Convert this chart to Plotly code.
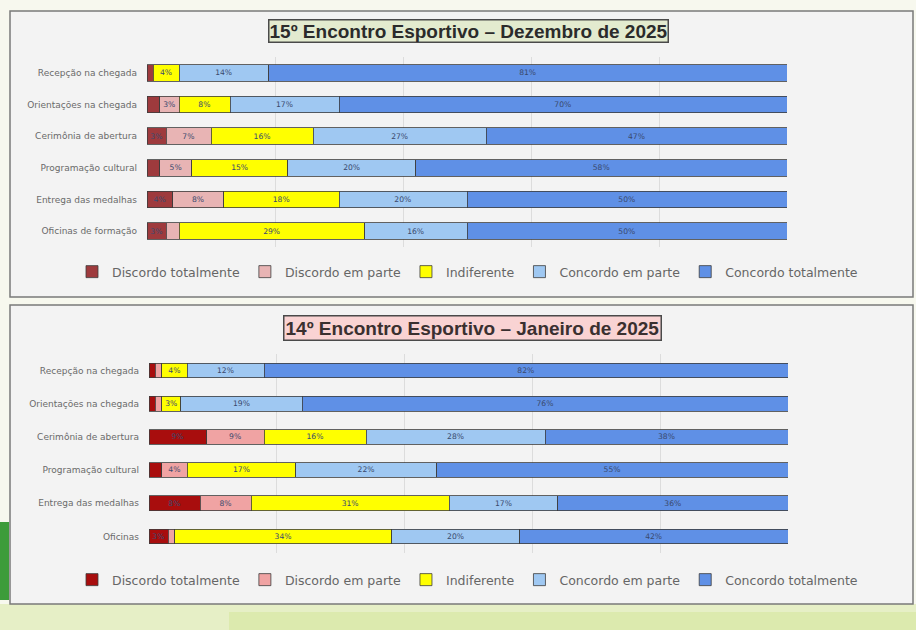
import plotly.graph_objects as go

# categories (top to bottom)
cats_dez = ["Recepção na chegada", "Orientações na chegada", "Cerimônia de abertura",
            "Programação cultural", "Entrega das medalhas", "Oficinas de formação"]
cats_jan = ["Recepção na chegada", "Orientações na chegada", "Cerimônia de abertura",
            "Programação cultural", "Entrega das medalhas", "Oficinas"]

series = ["Discordo totalmente", "Discordo em parte", "Indiferente",
          "Concordo em parte", "Concordo totalmente"]

# 15º Encontro - Dezembro de 2025 (%)
dez_disc_tot = [1, 2, 3, 2, 4, 3]
dez_disc_parte = [0, 3, 7, 5, 8, 2]
dez_indif = [4, 8, 16, 15, 18, 29]
dez_conc_parte = [14, 17, 27, 20, 20, 16]
dez_conc_tot = [81, 70, 47, 58, 50, 50]

# 14º Encontro - Janeiro de 2025 (%)
jan_disc_tot = [1, 1, 9, 2, 8, 3]
jan_disc_parte = [1, 1, 9, 4, 8, 1]
jan_indif = [4, 3, 16, 17, 31, 34]
jan_conc_parte = [12, 19, 28, 22, 17, 20]
jan_conc_tot = [82, 76, 38, 55, 36, 42]

cores_dez = ["#9e3a3d", "#e8b4b4", "#ffff00", "#9fc8f2", "#5f90e6"]
cores_jan = ["#a80d0d", "#f0a3a3", "#ffff00", "#9fc8f2", "#5f90e6"]

W, H = 916, 630
def px(x): return x / W
def py(y): return 1 - y / H

fig = go.Figure()

dados_dez = [dez_disc_tot, dez_disc_parte, dez_indif, dez_conc_parte, dez_conc_tot]
dados_jan = [jan_disc_tot, jan_disc_parte, jan_indif, jan_conc_parte, jan_conc_tot]

for nome, vals, cor in zip(series, dados_dez, cores_dez):
    fig.add_trace(go.Bar(
        y=cats_dez, x=vals, name=nome, orientation="h", width=0.52,
        marker=dict(color=cor, line=dict(color="#3c3c3c", width=0.8)),
        text=[f"{v}%" if v > 0 else "" for v in vals],
        textposition="inside", insidetextanchor="middle", textangle=0,
        textfont=dict(size=8, color="#3a4a6e", family="DejaVu Sans"),
        xaxis="x", yaxis="y", legend="legend", hoverinfo="x+y+name"))

for nome, vals, cor in zip(series, dados_jan, cores_jan):
    fig.add_trace(go.Bar(
        y=cats_jan, x=vals, name=nome, orientation="h", width=0.44,
        marker=dict(color=cor, line=dict(color="#3c3c3c", width=0.8)),
        text=[f"{v}%" if v > 0 else "" for v in vals],
        textposition="inside", insidetextanchor="middle", textangle=0,
        textfont=dict(size=8, color="#3a4a6e", family="DejaVu Sans"),
        xaxis="x2", yaxis="y2", legend="legend2", hoverinfo="x+y+name"))

eixo_x = dict(range=[0, 100], showticklabels=False, showgrid=True, gridcolor="#dcdcdc",
              dtick=20, zeroline=False, showline=False, fixedrange=True)
eixo_y = dict(autorange="reversed", showgrid=False, ticks="", ticklabelstandoff=9,
              tickfont=dict(size=9, color="#6a6a6a", family="DejaVu Sans"))

shapes = [
    # faixa verde inferior do slide
    dict(type="rect", xref="paper", yref="paper", x0=0, x1=1, y0=py(630), y1=py(604),
         fillcolor="#e6efc6", line_width=0, layer="below"),
    dict(type="rect", xref="paper", yref="paper", x0=0.25, x1=1, y0=py(630), y1=py(612),
         fillcolor="#dceaae", line_width=0, layer="below"),
    # painéis
    dict(type="rect", xref="paper", yref="paper", x0=px(10), x1=px(913), y0=py(297), y1=py(11),
         fillcolor="#f3f3f3", line=dict(color="#7a7a7a", width=1.5), layer="below"),
    dict(type="rect", xref="paper", yref="paper", x0=px(10), x1=px(913), y0=py(604), y1=py(305),
         fillcolor="#f3f3f3", line=dict(color="#7a7a7a", width=1.5), layer="below"),
    # faixa verde lateral
    dict(type="rect", xref="paper", yref="paper", x0=0, x1=px(9), y0=py(600), y1=py(522),
         fillcolor="#3d9c3a", line_width=0, layer="above"),
]

legenda = dict(orientation="h", xanchor="left", yanchor="middle", itemwidth=30,
               font=dict(size=12.5, color="#666666", family="DejaVu Sans"),
               bgcolor="rgba(0,0,0,0)", traceorder="normal", tracegroupgap=0)

fig.update_layout(
    width=W, height=H, margin=dict(l=0, r=0, t=0, b=0),
    paper_bgcolor="#f7f8ee", plot_bgcolor="rgba(0,0,0,0)",
    barmode="stack", showlegend=True,
    uniformtext=dict(minsize=6, mode="hide"),
    xaxis=dict(eixo_x, domain=[px(147), px(787)], anchor="y"),
    yaxis=dict(eixo_y, domain=[py(247), py(57)], anchor="x"),
    xaxis2=dict(eixo_x, domain=[px(149), px(788)], anchor="y2"),
    yaxis2=dict(eixo_y, domain=[py(553), py(354)], anchor="x2"),
    legend=dict(legenda, x=px(72), y=py(272)),
    legend2=dict(legenda, x=px(72), y=py(580)),
    shapes=shapes,
    annotations=[
        dict(text="<b>15º Encontro Esportivo – Dezembro de 2025</b>", xref="paper", yref="paper",
             x=px(469), y=py(31), xanchor="center", yanchor="middle", showarrow=False,
             font=dict(size=19, color="#2b2b2b", family="Liberation Sans"),
             bgcolor="#e3ebcf", bordercolor="#4a4a4a", borderwidth=1.5, borderpad=0),
        dict(text="<b>14º Encontro Esportivo – Janeiro de 2025</b>", xref="paper", yref="paper",
             x=px(472), y=py(328), xanchor="center", yanchor="middle", showarrow=False,
             font=dict(size=19, color="#3a3030", family="Liberation Sans"),
             bgcolor="#f9d3d3", bordercolor="#4a4a4a", borderwidth=1.5, borderpad=1),
    ],
)

fig.write_html("out.html", config={"displayModeBar": False},
               post_script="document.body.style.margin='0';")
